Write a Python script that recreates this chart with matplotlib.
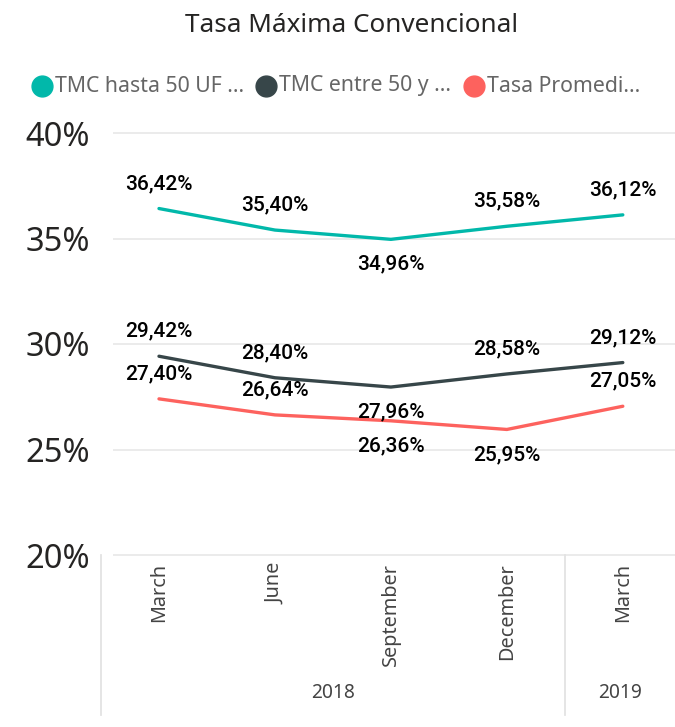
import matplotlib
matplotlib.use("Agg")
import matplotlib.pyplot as plt
from matplotlib.lines import Line2D
import matplotlib.transforms as mtransforms

# ---- data ----
months = ["March", "June", "September", "December", "March"]
years = ["2018", "2019"]
year_spans = [(0, 3), (4, 4)]
series_names = ["TMC hasta 50 UF ...", "TMC entre 50 y ...", "Tasa Promedi..."]
tmc_hasta_50 = [36.42, 35.40, 34.96, 35.58, 36.12]
tmc_entre_50 = [29.42, 28.40, 27.96, 28.58, 29.12]
tasa_promedio = [27.40, 26.64, 26.36, 25.95, 27.05]
# label placement: +1 above, -1 below
pos_hasta = [1, 1, -1, 1, 1]
pos_entre = [1, 1, -1, 1, 1]
pos_prom = [1, 1, -1, -1, 1]
y_ticks = [20, 25, 30, 35, 40]

colors = ["#01B8AA", "#374649", "#FD625E"]
font = "Noto Sans"
label_font = "Roboto"

fig = plt.figure(figsize=(6.75, 7.27), dpi=100)
W, H = 675, 727
ax = fig.add_axes([101 / W, 1 - 555 / H, (675 - 101) / W, (555 - 133) / H])
ax.set_xlim(-0.5, 4.45)
ax.set_ylim(20, 40)
for s in ax.spines.values():
    s.set_visible(False)

# gridlines
ax.hlines(y_ticks, -0.4, 4.45, colors="#E9E9E9", linewidth=1.3, zorder=0, clip_on=False)

x = list(range(len(months)))
for vals, poss, c in zip([tmc_hasta_50, tmc_entre_50, tasa_promedio],
                         [pos_hasta, pos_entre, pos_prom], colors):
    ax.plot(x, vals, color=c, linewidth=2.4, solid_capstyle="round", zorder=3)
    for xi, v, p in zip(x, vals, poss):
        ax.annotate(f"{v:.2f}%".replace(".", ","), (xi, v), xytext=(0, 18 * p),
                    textcoords="offset points", ha="center", va="center",
                    fontsize=15, fontfamily=label_font, fontweight="medium",
                    color="#000000", zorder=5)

# y axis
ax.set_yticks(y_ticks)
ax.set_yticklabels([f"{t}%" for t in y_ticks], fontsize=23.5, fontfamily=font, color="#252423")
ax.tick_params(axis="y", length=0, pad=8)

# x axis (hierarchical)
ax.set_xticks([])
trans = mtransforms.blended_transform_factory(ax.transData, ax.transAxes)
ax_h = (555 - 133)
def ay(py):
    return (555 - py) / ax_h

for xi, m in zip(x, months):
    ax.text(xi, ay(563), m, rotation=90, ha="center", va="top", fontsize=14.3,
            fontfamily=font, color="#444444", transform=trans)

# year labels
xmax = ax.get_xlim()[1]
for (a, b), yr in zip(year_spans, years):
    lo = a - 0.5
    hi = b + 0.5 if b < len(x) - 1 else xmax
    ax.text((lo + hi) / 2, ay(693), yr, ha="center", va="center", fontsize=13.8,
            fontfamily=font, color="#444444", transform=trans)

# separators
for xs in [-0.5, 3.5]:
    ax.add_line(Line2D([xs, xs], [ay(555), ay(715)], transform=trans, color="#E3E3E3",
                       linewidth=1.3, clip_on=False))

# title
fig.text(352 / W, 1 - 25 / H, "Tasa Máxima Convencional", ha="center", va="center",
         fontsize=18.8, fontfamily=font, color="#252423")

# legend
leg_x = [42, 266, 474]
for lx, name, c in zip(leg_x, series_names, colors):
    fig.add_artist(Line2D([lx / W], [1 - 86 / H], marker="o", markersize=15,
                          color=c, transform=fig.transFigure))
    fig.text((lx + 13) / W, 1 - 86 / H, name, ha="left", va="center", fontsize=15.3,
             fontfamily=font, color="#666666")

fig.savefig("out.png", dpi=100, facecolor="white")
